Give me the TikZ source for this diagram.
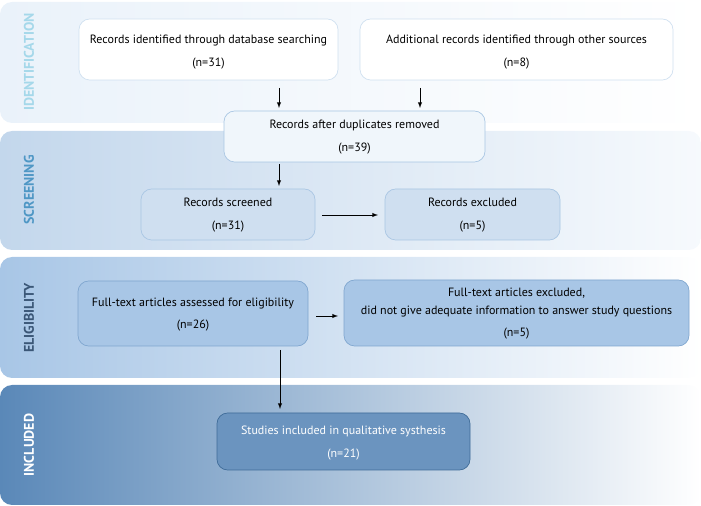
\documentclass[tikz,border=0pt]{standalone}
\usepackage{fontspec}
\setmainfont{PT Sans}
\begin{document}
\begin{tikzpicture}[x=0.75pt,y=-0.75pt,
 band/.style={rounded corners=9pt,draw=none},
 box/.style={draw=#1,rounded corners=8pt,line width=0.5pt},
 lbl/.style={rotate=90,font=\bfseries\fontsize{10.5}{12}\selectfont},
 txt/.style={align=center,font=\fontsize{9}{17}\selectfont},
 arr/.style={-latex,line width=0.5pt}]
\useasboundingbox (0,0) rectangle (701,506);
\definecolor{bA}{HTML}{EAF2FA}\definecolor{bB}{HTML}{C3D7EC}
\definecolor{bC}{HTML}{A8C6E6}\definecolor{bD}{HTML}{5A88B8}
\definecolor{k1}{HTML}{CFE0F0}\definecolor{k2}{HTML}{A9C6E3}
\definecolor{k3}{HTML}{7FA6CF}\definecolor{k4}{HTML}{3E6B98}
\definecolor{t1}{HTML}{A5D8EA}\definecolor{t2}{HTML}{4F97C5}
\definecolor{t3}{HTML}{3B5777}
\path[band,left color=bA,right color=white] (0,2) rectangle (701,123);
\path[band,left color=bB,right color=white!60!bA] (0,131) rectangle (701,250);
\path[band,left color=bC,right color=white] (0,257) rectangle (701,378);
\path[band,left color=bD,right color=white] (0,385) rectangle (701,505);
\node[lbl,text=t1] (l1) at (29,62) {IDENTIFICATION};
\node[lbl,text=t2] (l2) at (29,190) {SCREENING};
\node[lbl,text=t3] (l3) at (29,318) {ELIGIBILITY};
\node[lbl,text=white] (l4) at (29,445) {INCLUDED};
\path[box=k1,fill=white] (79,19) rectangle (338,80);
\node[txt] (a) at (208.5,52) {Records identified through database searching\\(n=31)};
\path[box=k1,fill=white] (360,19) rectangle (673,80);
\node[txt] (b) at (516.5,52) {Additional records identified through other sources\\(n=8)};
\path[box=k2,fill=bA!70!white] (224,111) rectangle (485,162);
\node[txt] (c) at (354.5,137) {Records after duplicates removed\\(n=39)};
\path[box=k2,fill=bB!80!white] (141,189) rectangle (315,240);
\node[txt] (d) at (228,215) {Records screened\\(n=31)};
\path[box=k2,fill=bB!80!white] (385,189) rectangle (560,240);
\node[txt] (e) at (472.5,215) {Records excluded\\(n=5)};
\path[box=k3,fill=bC] (78,281) rectangle (308,346);
\node[txt] (f) at (193,314.5) {Full-text articles assessed for eligibility\\(n=26)};
\path[box=k3,fill=bC] (344,280) rectangle (689,346);
\node[txt,font=\fontsize{9}{13}\selectfont] (g) at (516.5,314) {Full-text articles excluded,\\did not give adequate information to answer study questions\\[4pt](n=5)};
\path[box=k4,fill=bD!90!white] (217,413) rectangle (470,470);
\node[txt,text=white] (h) at (343.5,443) {Studies included in qualitative systhesis\\(n=21)};
\coordinate (a1) at (279,88);\coordinate (a2) at (279,108);
\coordinate (b1) at (420,88);\coordinate (b2) at (420,108);
\coordinate (c1) at (279,164);\coordinate (c2) at (279,186);
\coordinate (d1) at (322,215);\coordinate (d2) at (378,215);
\coordinate (f1) at (316,316);\coordinate (f2) at (338,316);
\coordinate (h1) at (280,350);\coordinate (h2) at (280,409);
\draw[arr] (a1) -- (a2);\draw[arr] (b1) -- (b2);
\draw[arr] (c1) -- (c2);\draw[arr] (d1) -- (d2);
\draw[arr] (f1) -- (f2);\draw[arr] (h1) -- (h2);
\end{tikzpicture}
\end{document}
